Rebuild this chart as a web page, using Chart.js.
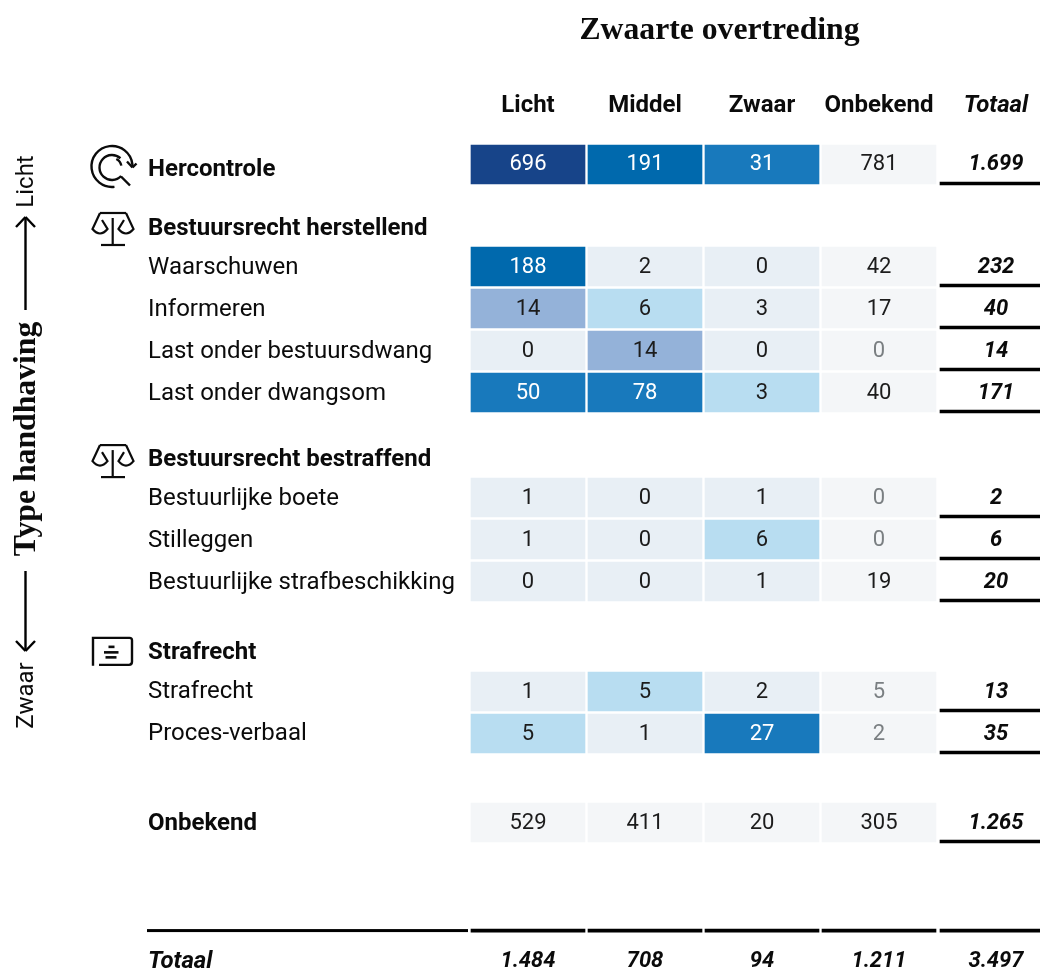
<!DOCTYPE html>
<html>
<head>
<meta charset="utf-8">
<style>
    html, body { margin: 0; padding: 0; background: #fff; overflow: hidden; width: 1040px; height: 971px; }
    canvas { display: block; }
</style>
<script src="https://cdn.jsdelivr.net/npm/chart.js@4"></script>
</head>
<body>
<canvas id="chart" width="1055" height="971"></canvas>
<script>
const columns = ["Licht", "Middel", "Zwaar", "Onbekend", "Totaal"];

const hercontrole = [696, 191, 31, 781];
const waarschuwen = [188, 2, 0, 42];
const informeren = [14, 6, 3, 17];
const lastBestuursdwang = [0, 14, 0, 0];
const lastDwangsom = [50, 78, 3, 40];
const bestuurlijkeBoete = [1, 0, 1, 0];
const stilleggen = [1, 0, 6, 0];
const strafbeschikking = [0, 0, 1, 19];
const strafrecht = [1, 5, 2, 5];
const procesVerbaal = [5, 1, 27, 2];
const onbekend = [529, 411, 20, 305];

const rowValues = [hercontrole, waarschuwen, informeren, lastBestuursdwang, lastDwangsom,
    bestuurlijkeBoete, stilleggen, strafbeschikking, strafrecht, procesVerbaal, onbekend];
const rowTotals = ["1.699", "232", "40", "14", "171", "2", "6", "20", "13", "35", "1.265"];
const columnTotals = ["1.484", "708", "94", "1.211", "3.497"];

// where the rows sit on the y axis, one unit is one row pitch
const rowSlots = [0, 2.4286, 3.4286, 4.4286, 5.4286, 7.9286, 8.9286, 9.9286, 12.5476, 13.5476, 15.6667];
const totalSlot = 18.94;
const totalRuleSlot = 18.24;

// left hand labels
const sideLabels = ["Hercontrole", "Bestuursrecht herstellend", "Waarschuwen", "Informeren",
    "Last onder bestuursdwang", "Last onder dwangsom", "Bestuursrecht bestraffend", "Bestuurlijke boete",
    "Stilleggen", "Bestuurlijke strafbeschikking", "Strafrecht", "Strafrecht", "Proces-verbaal", "Onbekend", "Totaal"];
const sideSlots = [0.133, 1.546, 2.474, 3.474, 4.474, 5.474, 7.04, 7.974, 8.974, 9.974, 11.63, 12.55, 13.55, 15.714, 18.99];
const boldLabels = [0, 1, 6, 10, 13];

// colour class of every cell, 6 is the grey of the unknown cells
const palette = ["#e8eff5", "#b8ddf1", "#94b2d9", "#1879bc", "#0069ad", "#174489", "#f4f6f8"];
const cellShades = [
    [5, 4, 3, 6],
    [4, 0, 0, 6],
    [2, 1, 0, 6],
    [0, 2, 0, 6],
    [3, 3, 1, 6],
    [0, 0, 0, 6],
    [0, 0, 1, 6],
    [0, 0, 0, 6],
    [0, 1, 0, 6],
    [1, 0, 3, 6],
    [6, 6, 6, 6]
];

const ink = "#0b0b0b";
const cellHalf = 0.4643;
const sans = "Roboto";
const serif = "'Liberation Serif'";

const datasets = rowValues.map((values, r) => ({
    label: "row " + r,
    data: values.map((v, c) => ({ x: columns[c], y: [rowSlots[r] - cellHalf, rowSlots[r] + cellHalf] })),
    backgroundColor: cellShades[r].map(s => palette[s]),
    barThickness: 114,
    grouped: false
}));

// rules under the totals, the last column starts a bit later
datasets.push({
    label: "rules",
    data: rowSlots.concat(totalRuleSlot - 0.4525).map(s => ({ x: "Totaal", y: [s + 0.417, s + 0.488] })),
    backgroundColor: "#000",
    barThickness: 112,
    grouped: false
});
datasets.push({
    label: "total rule",
    data: columns.slice(0, 4).map(c => ({ x: c, y: [totalRuleSlot - 0.0357, totalRuleSlot + 0.0357] })),
    backgroundColor: "#000",
    barThickness: 114,
    grouped: false
});

function line(ctx, x1, y1, x2, y2) {
    ctx.beginPath();
    ctx.moveTo(x1, y1);
    ctx.lineTo(x2, y2);
    ctx.stroke();
}

function drawScales(ctx, y) {
    ctx.lineWidth = 2.2;
    line(ctx, 100, y, 126, y);
    line(ctx, 112.7, y + 5, 112.7, y + 32);
    line(ctx, 101, y + 32, 125, y + 32);
    [[100, -7.5, 2, 7.5], [126, 7.5, -2, -7.5]].forEach(s => {
        const c = s[0];
        ctx.beginPath();
        ctx.moveTo(c, y);
        ctx.lineTo(c + s[1], y + 16);
        ctx.quadraticCurveTo(c, y + 25, c + s[3], y + 16);
        ctx.lineTo(c + s[2], y + 7);
        ctx.stroke();
    });
}

function drawSearch(ctx, y) {
    ctx.lineWidth = 2.4;
    ctx.beginPath();
    ctx.arc(112, y, 20.5, 1.45, Math.PI * 2 - 0.02, false);
    ctx.stroke();
    ctx.beginPath();
    ctx.arc(112, y + 1, 12.5, 0.75, 0.75 + 4.7, false);
    ctx.stroke();
    ctx.beginPath();
    ctx.arc(112, y + 1, 9.5, -1.1, -0.2, false);
    ctx.stroke();
    line(ctx, 121, y + 10, 130, y + 19);
    line(ctx, 127, y - 5, 132.5, y + 1);
    line(ctx, 132.5, y + 1, 136.5, y - 3);
}

function drawCase(ctx, y) {
    ctx.lineWidth = 2.4;
    ctx.beginPath();
    ctx.moveTo(93, y + 15);
    ctx.lineTo(93, y - 13);
    ctx.lineTo(129.5, y - 13);
    ctx.quadraticCurveTo(132, y - 13, 132, y - 10.5);
    ctx.lineTo(132, y + 11);
    ctx.quadraticCurveTo(132, y + 14, 129, y + 14);
    ctx.lineTo(99, y + 14);
    ctx.stroke();
    ctx.lineWidth = 2.6;
    line(ctx, 108.5, y - 4, 114.5, y - 4);
    line(ctx, 104, y + 1.5, 118.5, y + 1.5);
    line(ctx, 105.5, y + 6.5, 116.5, y + 6.5);
}

const extras = {
    id: "extras",
    afterDatasetsDraw(chart) {
        const ctx = chart.ctx;
        const x = chart.scales.x;
        const y = chart.scales.y;
        ctx.save();
        ctx.textAlign = "center";
        ctx.textBaseline = "middle";

        // cell numbers
        rowValues.forEach((values, r) => {
            const py = y.getPixelForValue(rowSlots[r]) + (r === 0 ? -0.5 : 1);
            values.forEach((v, c) => {
                const shade = cellShades[r][c];
                ctx.font = "22px " + sans;
                ctx.fillStyle = shade >= 3 && shade <= 5 ? "#fff" : "#1c1c1c";
                if (c === 3 && r < 10 && v <= 5) ctx.fillStyle = "#7a7f82";
                ctx.fillText(String(v), x.getPixelForValue(c), py);
            });
            ctx.font = "italic bold 22px " + sans;
            ctx.fillStyle = ink;
            ctx.fillText(rowTotals[r], x.getPixelForValue(4), py);
        });
        columnTotals.forEach((t, c) => {
            ctx.font = "italic bold 22px " + sans;
            ctx.fillStyle = ink;
            ctx.fillText(t, x.getPixelForValue(c), y.getPixelForValue(totalSlot) + 2);
        });

        // rule under the label column
        ctx.fillStyle = "#000";
        ctx.fillRect(147, y.getPixelForValue(totalRuleSlot) - 1.5, 321, 3);

        // title and side axis
        ctx.fillStyle = ink;
        ctx.font = "bold 31.7px " + serif;
        ctx.fillText("Zwaarte overtreding", 719.5, 31);

        ctx.save();
        ctx.translate(27, 439);
        ctx.rotate(-Math.PI / 2);
        ctx.fillText("Type handhaving", 0, 0);
        ctx.restore();

        ctx.font = "24px " + sans;
        ctx.save();
        ctx.translate(26.5, 181.5);
        ctx.rotate(-Math.PI / 2);
        ctx.fillText("Licht", 0, 0);
        ctx.restore();
        ctx.save();
        ctx.translate(26.5, 695.5);
        ctx.rotate(-Math.PI / 2);
        ctx.fillText("Zwaar", 0, 0);
        ctx.restore();

        ctx.strokeStyle = "#000";
        ctx.lineWidth = 2.4;
        line(ctx, 25.5, 310, 25.5, 217);
        line(ctx, 16, 227, 25.5, 217);
        line(ctx, 35, 227, 25.5, 217);
        line(ctx, 25.5, 571, 25.5, 651);
        line(ctx, 16, 641, 25.5, 651);
        line(ctx, 35, 641, 25.5, 651);

        // icons next to the group labels
        ctx.strokeStyle = "#0b0b0b";
        drawSearch(ctx, y.getPixelForValue(0) + 2);
        drawScales(ctx, y.getPixelForValue(1.476) - 13.5);
        drawScales(ctx, y.getPixelForValue(6.99) - 13);
        drawCase(ctx, y.getPixelForValue(11.58));
        ctx.restore();
    }
};

new Chart(document.getElementById("chart"), {
    type: "bar",
    data: { labels: columns, datasets: datasets },
    plugins: [extras],
    options: {
        responsive: false,
        animation: false,
        devicePixelRatio: 1,
        layout: { padding: { left: 148, top: 90, right: 0.5, bottom: 0 } },
        plugins: { legend: { display: false }, tooltip: { enabled: false }, title: { display: false } },
        scales: {
            x: {
                position: "top",
                grid: { display: false, drawTicks: false },
                border: { display: false },
                afterFit: scale => {
                    scale.height = 35;
                    scale.paddingLeft = 0;
                    scale.paddingRight = 0;
                },
                ticks: {
                    padding: 5,
                    color: ink,
                    maxRotation: 0,
                    autoSkip: false,
                    font: ctx => ({ family: sans, size: 24, weight: "bold", style: ctx.index === 4 ? "italic" : "normal" })
                }
            },
            y: {
                reverse: true,
                min: -0.9405,
                max: 19.2024,
                grid: { display: false, drawTicks: false },
                border: { display: false },
                afterBuildTicks: scale => { scale.ticks = sideSlots.map(v => ({ value: v })); },
                afterFit: scale => {
                    scale.width = 321.5;
                    scale.paddingTop = 0;
                    scale.paddingBottom = 0;
                },
                ticks: {
                    padding: 0,
                    crossAlign: "far",
                    autoSkip: false,
                    color: ink,
                    callback: (value, index) => sideLabels[index],
                    font: ctx => ({
                        family: sans,
                        size: 24,
                        weight: boldLabels.includes(ctx.index) || ctx.index === 14 ? "bold" : "normal",
                        style: ctx.index === 14 ? "italic" : "normal"
                    })
                }
            }
        }
    }
});
</script>
</body>
</html>
